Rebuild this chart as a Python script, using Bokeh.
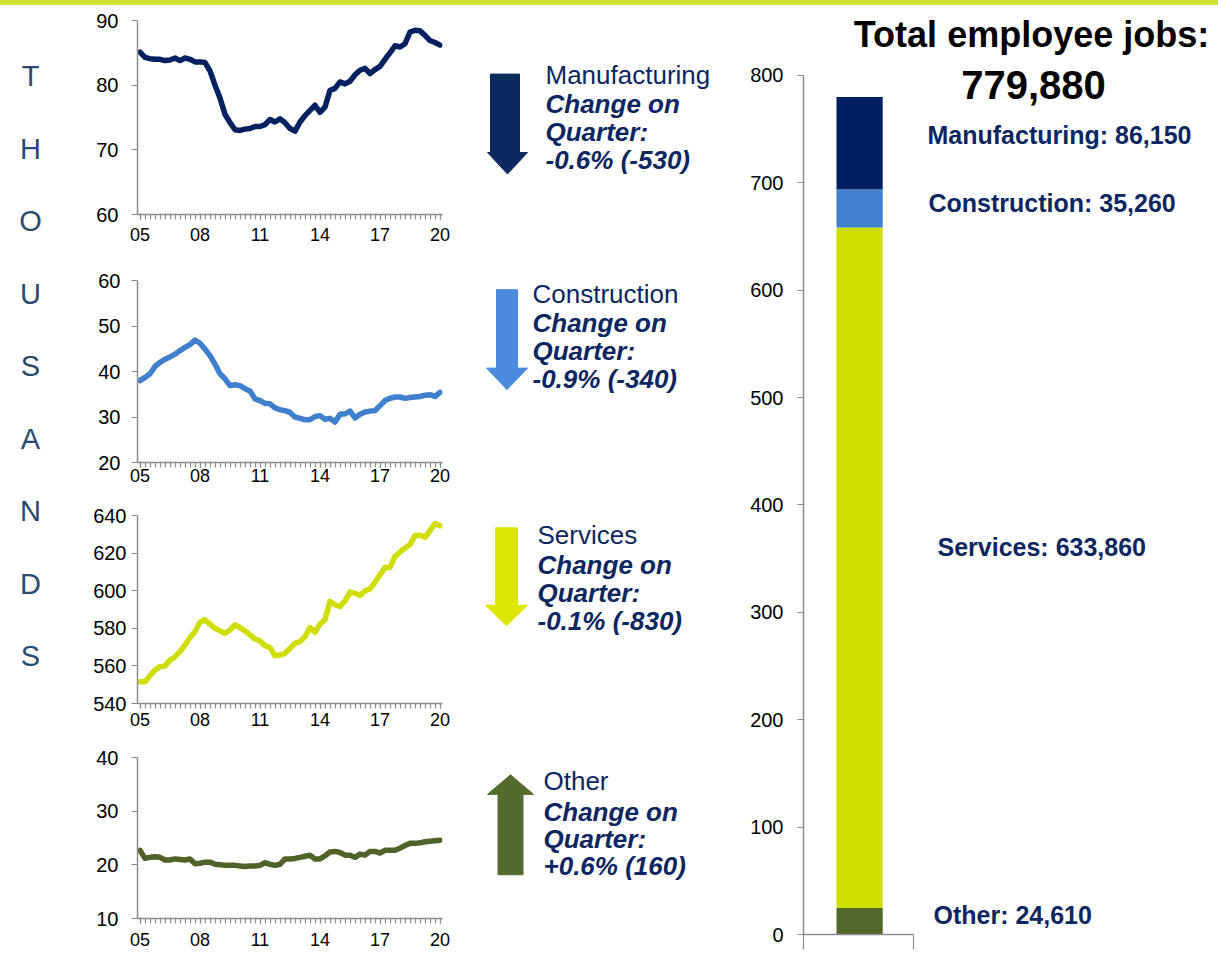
from bokeh.plotting import figure
from bokeh.models import Range1d, FixedTicker, LinearAxis, Div
from bokeh.layouts import row, column
from bokeh.core.properties import value
from bokeh.embed import file_html
from bokeh.resources import INLINE

# ---------------- data ----------------
quarters = list(range(61))                      # 2005 Q1 ... 2020 Q1
year_labels = ["05", "08", "11", "14", "17", "20"]

manufacturing = [85.1, 84.3, 84.1, 84.0, 84.0, 83.8, 83.9, 84.2, 83.8, 84.2,
                 84.0, 83.6, 83.6, 83.5, 82.2, 80.0, 78.0, 75.5, 74.2, 73.1,
                 73.0, 73.2, 73.3, 73.6, 73.6, 73.9, 74.7, 74.3, 74.8, 74.2,
                 73.3, 72.9, 74.3, 75.3, 76.1, 76.9, 75.8, 76.6, 79.2, 79.5,
                 80.5, 80.2, 80.6, 81.6, 82.3, 82.6, 81.8, 82.4, 82.9, 84.0,
                 85.0, 86.1, 85.9, 86.4, 88.2, 88.5, 88.4, 87.7, 86.9, 86.6,
                 86.2]
construction = [38.0, 38.7, 39.5, 41.1, 42.0, 42.7, 43.2, 43.8, 44.6, 45.3,
                45.9, 46.9, 46.2, 44.9, 43.5, 41.6, 39.5, 38.4, 36.9, 37.1,
                36.9, 36.2, 35.7, 34.0, 33.6, 33.0, 32.9, 32.0, 31.6, 31.4,
                31.0, 30.0, 29.7, 29.4, 29.4, 30.1, 30.3, 29.5, 29.7, 28.9,
                30.6, 30.7, 31.3, 29.8, 30.6, 31.1, 31.3, 31.4, 32.5, 33.6,
                34.1, 34.4, 34.4, 34.1, 34.3, 34.4, 34.5, 34.8, 34.9, 34.5,
                35.4]
services = [551.6, 551.6, 554.8, 557.8, 559.6, 559.9, 563.1, 564.9, 567.6, 571.1,
            575.1, 578.3, 583.2, 584.5, 582.2, 580.0, 578.6, 577.4, 579.1, 581.8,
            580.4, 578.6, 576.5, 574.3, 573.3, 570.8, 569.7, 565.4, 565.8, 566.7,
            569.4, 572.0, 572.9, 575.6, 580.4, 577.9, 582.2, 584.5, 594.3, 592.5,
            591.6, 594.6, 599.3, 598.7, 597.5, 600.0, 601.0, 604.6, 608.5, 612.4,
            612.4, 618.3, 620.6, 622.7, 624.5, 629.3, 629.5, 628.4, 632.0, 635.7,
            634.5]
other = [22.7, 21.2, 21.4, 21.5, 21.4, 20.9, 20.9, 21.1, 21.0, 20.9,
         21.1, 20.2, 20.3, 20.5, 20.5, 20.1, 20.0, 19.9, 19.9, 19.9,
         19.8, 19.7, 19.8, 19.8, 19.9, 20.4, 20.1, 19.9, 20.1, 21.1,
         21.1, 21.2, 21.4, 21.6, 21.8, 21.1, 21.1, 21.7, 22.4, 22.5,
         22.3, 21.8, 21.8, 21.4, 22.0, 21.8, 22.5, 22.5, 22.2, 22.7,
         22.7, 22.7, 23.1, 23.6, 24.0, 24.0, 24.1, 24.3, 24.4, 24.5,
         24.6]

manu_ticks = [60, 70, 80, 90]
cons_ticks = [20, 30, 40, 50, 60]
serv_ticks = [540, 560, 580, 600, 620, 640]
other_ticks = [10, 20, 30, 40]
bar_ticks = [0, 100, 200, 300, 400, 500, 600, 700, 800]

sectors = ["Manufacturing", "Construction", "Services", "Other"]
jobs_latest = [86150, 35260, 633860, 24610]
change_pct = ["-0.6%", "-0.9%", "-0.1%", "+0.6%"]
change_abs = ["(-530)", "(-340)", "(-830)", "(160)"]

# ---------------- style ----------------
FONT = "Liberation Sans"
NAVY = "#0B2660"
AXIS_GREY = "#8C8C8C"
BAND = "#D3DE30"
LINE_COLORS = ["#002060", "#3F7FCE", "#CFDE00", "#4F6228"]
BAR_COLORS = ["#002060", "#4080CC", "#D0DE00", "#52652B"]
ARROW_COLORS = ["#0D2A5F", "#4A8BDB", "#DDE600", "#546B2E"]
BAND_H = 5
ROW_H = 948
TXT_SHIFT = 9   # baseline correction for text glyphs


def Y(ref_y):
    return ref_y - BAND_H


def Yt(ref_y):
    return ref_y - BAND_H - TXT_SHIFT


def base_fig(width, height, **kw):
    p = figure(width=width, height=height, output_backend="svg",
               toolbar_location=None, x_axis_type=None, y_axis_type=None, **kw)
    p.outline_line_color = None
    p.background_fill_color = "white"
    p.border_fill_color = "white"
    return p


def style_axis(ax, font_size, standoff):
    ax.axis_line_color = AXIS_GREY
    ax.axis_line_width = 1.5
    ax.major_tick_line_color = AXIS_GREY
    ax.major_tick_line_width = 1.2
    ax.minor_tick_line_color = AXIS_GREY
    ax.minor_tick_line_width = 1.2
    ax.major_tick_in = 0
    ax.minor_tick_in = 0
    ax.major_label_text_font = FONT
    ax.major_label_text_font_size = font_size
    ax.major_label_text_color = "black"
    ax.major_label_standoff = standoff


year_ticks = [i * 12 for i in range(len(year_labels))]
year_overrides = {t: lab for t, lab in zip(year_ticks, year_labels)}


def line_panel(vals, color, yticks, left, right, top, bottom, height, ystand, xstand):
    p = base_fig(386, height, x_range=Range1d(-0.5, 60.5),
                 y_range=Range1d(yticks[0], yticks[-1]),
                 min_border_left=left, min_border_right=right,
                 min_border_top=top, min_border_bottom=bottom)
    p.line(quarters, vals, line_color=color, line_width=5.5,
           line_join="round", line_cap="round")
    yax = LinearAxis(ticker=FixedTicker(ticks=yticks))
    style_axis(yax, "20px", ystand)
    yax.major_tick_out = 6
    p.add_layout(yax, "left")
    xax = LinearAxis(ticker=FixedTicker(ticks=year_ticks, minor_ticks=quarters),
                     major_label_overrides=year_overrides)
    style_axis(xax, "18px", xstand)
    xax.major_tick_out = 5
    xax.minor_tick_out = 5
    p.add_layout(xax, "below")
    return p


p1 = line_panel(manufacturing, LINE_COLORS[0], manu_ticks, 53, 23, 15, 41, 250, 13, 8)
p2 = line_panel(construction, LINE_COLORS[1], cons_ticks, 50, 24, 25, 30, 237, 11, 1)
p3 = line_panel(services, LINE_COLORS[2], serv_ticks, 48, 9, 23, 31, 242, 5, 4)
p4 = line_panel(other, LINE_COLORS[3], other_ticks, 48, 28, 23, 35, 219, 13, 9)

# ---------------- "THOUSANDS" ----------------
t = base_fig(84, ROW_H, x_range=Range1d(0, 84), y_range=Range1d(ROW_H, 0), min_border=0)
letters = list("THOUSANDS")
t.text(x=[30] * len(letters), y=[Yt(86 + 74 * i) for i in range(len(letters))],
       text=letters, text_align="center", text_baseline="alphabetic",
       text_font=value(FONT), text_font_size="29px", text_color="#2D4A6D")

# ---------------- arrows + change text ----------------
m = base_fig(270, ROW_H, x_range=Range1d(470, 740), y_range=Range1d(ROW_H, 0), min_border=0)
# arrow geometry (page x, reference y): shaft l/r, start, head base, head l/r, tip
arrow_geo = [
    (490, 519, 75, 155, 487, 527, 177),
    (496, 517, 295, 375, 486, 527, 397),
    (495, 517, 538, 617, 485, 527, 638),
    (497.5, 522.5, 892, 810, 487, 533, 790),
]
xs, ys = [], []
for sl, sr, st, hb, hl, hr, tip in arrow_geo:
    tx = (hl + hr) / 2
    xs.append([sl, sr, sr, hr, tx, hl, sl])
    ys.append([Y(st), Y(st), Y(hb), Y(hb), Y(tip), Y(hb), Y(hb)])
m.patches(xs, ys, fill_color=ARROW_COLORS, line_color=ARROW_COLORS, line_width=1)

text_geo = [
    (545, [85, 115, 143.3, 171.7]),
    (532, [308.3, 338.3, 366.7, 395]),
    (537, [554.3, 585, 613.3, 641.7]),
    (543, [805, 836.7, 865, 891.7]),
]
for i, (tx, bases) in enumerate(text_geo):
    m.text(x=[tx], y=[Yt(bases[0])], text=[sectors[i]], text_align="left",
           text_baseline="alphabetic", text_font=value(FONT),
           text_font_size="26px", text_color=NAVY)
    m.text(x=[tx] * 3, y=[Yt(b) for b in bases[1:]],
           text=["Change on", "Quarter:", f"{change_pct[i]} {change_abs[i]}"],
           text_align="left", text_baseline="alphabetic", text_font=value(FONT),
           text_font_size="26px", text_font_style="bold italic", text_color=NAVY)

# ---------------- stacked bar ----------------
BAR_W = 478
BAR_LEFT = 63
px_per_unit = (Y(934.3) - Y(75)) / 800.0
y_top = Y(934.3) / px_per_unit
x_right = (BAR_W - BAR_LEFT) / 110.0
b = base_fig(BAR_W, ROW_H, x_range=Range1d(0, x_right), y_range=Range1d(0, y_top),
             min_border_left=BAR_LEFT, min_border_right=0, min_border_top=0,
             min_border_bottom=ROW_H - int(round(Y(934.3))))
stack_order = [3, 2, 1, 0]
bottoms, tops, cols = [], [], []
acc = 0.0
for i in stack_order:
    v = jobs_latest[i] / 1000.0
    bottoms.append(acc)
    acc += v
    tops.append(acc)
    cols.append(BAR_COLORS[i])
b.vbar(x=[0.51] * len(tops), width=0.42, bottom=bottoms, top=tops,
       fill_color=cols, line_color=None)

byax = LinearAxis(ticker=FixedTicker(ticks=bar_ticks), bounds=(0, 800))
style_axis(byax, "20px", 14)
byax.major_tick_out = 6
b.add_layout(byax, "left")
bxax = LinearAxis(ticker=FixedTicker(ticks=[0, 1]), bounds=(0, 1),
                  major_label_overrides={0: "", 1: ""})
style_axis(bxax, "1px", 0)
bxax.major_tick_out = 15
b.add_layout(bxax, "below")


def bx(page_x):
    return (page_x - (740 + BAR_LEFT)) / 110.0


def by(ref_y):
    return (Y(934.3) - Yt(ref_y)) / px_per_unit


label_geo = [(927, 143.3), (928, 211.7), (937, 556), (933, 923.3)]
for i, (lx, ly) in enumerate(label_geo):
    b.text(x=[bx(lx)], y=[by(ly)], text=[f"{sectors[i]}: {jobs_latest[i]:,}"],
           text_align="left", text_baseline="alphabetic", text_font=value(FONT),
           text_font_size="25px", text_font_style="bold", text_color=NAVY)

b.text(x=[bx(1031)], y=[by(43.3)], text=["Total employee jobs:"],
       text_align="center", text_baseline="alphabetic", text_font=value(FONT),
       text_font_size="36px", text_font_style="bold", text_color="black")
b.text(x=[bx(1033)], y=[by(93.3)], text=[f"{sum(jobs_latest):,}"],
       text_align="center", text_baseline="alphabetic", text_font=value(FONT),
       text_font_size="40px", text_font_style="bold", text_color="black")

# ---------------- top band ----------------
band = Div(text="", width=1218, height=BAND_H, margin=0,
           styles={"background-color": BAND})

layout = column(band, row(t, column(p1, p2, p3, p4), m, b))

with open("out.html", "w") as f:
    f.write(file_html(layout, INLINE))
